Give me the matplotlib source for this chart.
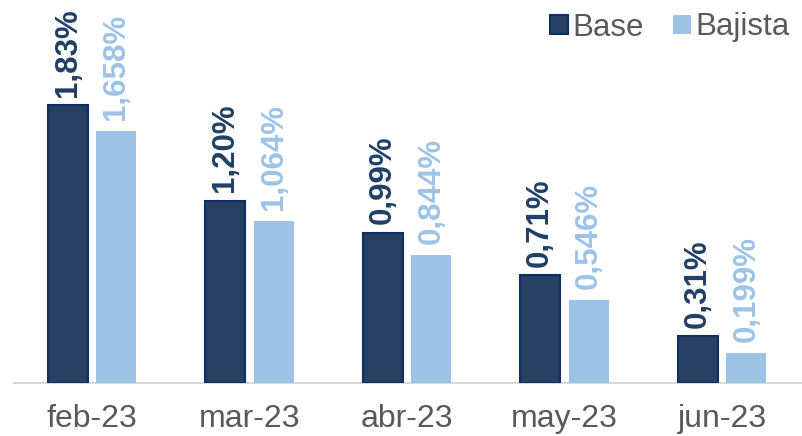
import matplotlib.pyplot as plt
import numpy as np

plt.rcParams['font.family'] = ['Liberation Sans', 'DejaVu Sans']

months = ["feb-23", "mar-23", "abr-23", "may-23", "jun-23"]
base = [1.83, 1.20, 0.99, 0.71, 0.31]
bajista = [1.658, 1.064, 0.844, 0.546, 0.199]
base_labels = ["1,83%", "1,20%", "0,99%", "0,71%", "0,31%"]
bajista_labels = ["1,658%", "1,064%", "0,844%", "0,546%", "0,199%"]

base_color = "#254061"
base_edge = "#0F2D69"
base_text = "#1F3F66"
baj_color = "#9DC3E6"

fig = plt.figure(figsize=(8.02, 4.36), dpi=100)
ax = fig.add_axes([0.0175, 0.1216, 0.9825, 0.8784])

x = np.arange(len(months))
w = 0.254
off = 0.155

b1 = ax.bar(x - off, base, w, color=base_color, edgecolor=base_edge, linewidth=1.5, label="Base", zorder=3)
b2 = ax.bar(x + off, bajista, w, color=baj_color, label="Bajista", zorder=3)

for i in range(len(months)):
    ax.annotate(base_labels[i], (x[i] - off, base[i]), xytext=(0, 6), textcoords="offset points",
                rotation=90, ha="center", va="bottom", fontsize=22.5, fontweight="bold", color=base_text)
    ax.annotate(bajista_labels[i], (x[i] + off, bajista[i]), xytext=(0, 8), textcoords="offset points",
                rotation=90, ha="center", va="bottom", fontsize=22.5, fontweight="bold", color=baj_color)

ax.set_xlim(-0.495, 4.508)
ax.set_ylim(0, 2.521)
ax.set_xticks(x)
ax.set_xticklabels(months, fontsize=23, color="#595959")
ax.tick_params(axis="x", length=0, pad=15)
ax.set_yticks([])
for s in ["top", "right", "left"]:
    ax.spines[s].set_visible(False)
ax.spines["bottom"].set_color("#D9D9D9")
ax.spines["bottom"].set_linewidth(1.5)

fig.legend(handles=[b1, b2], loc="upper right", bbox_to_anchor=(1.0, 1.0), ncol=2, frameon=False,
           fontsize=22.5, labelcolor="#595959", handlelength=0.55, handleheight=0.55,
           handletextpad=0.15, columnspacing=0.95, borderpad=0.1, borderaxespad=0.3)

fig.savefig("out.png", dpi=100)
